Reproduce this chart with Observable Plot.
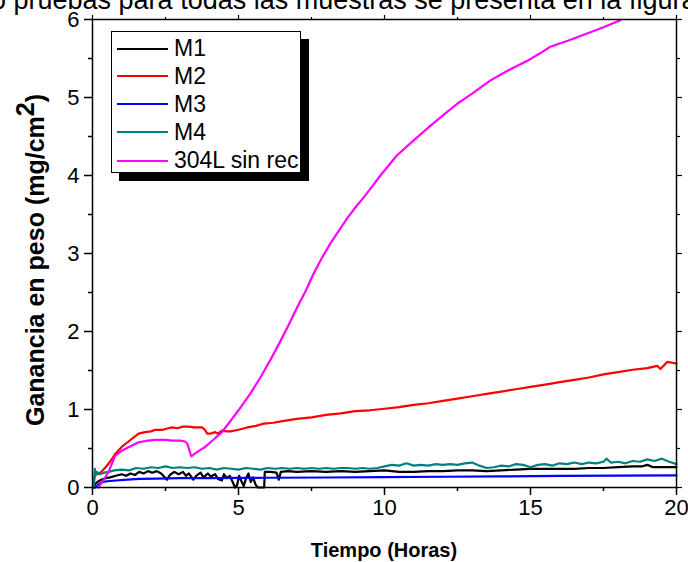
<!DOCTYPE html>
<html><head><meta charset="utf-8">
<script src="https://cdn.jsdelivr.net/npm/d3@7"></script>
<script src="https://cdn.jsdelivr.net/npm/@observablehq/plot@0.6"></script>
<style>
body{margin:0;background:#fff;}
#wrap{position:relative;width:688px;height:562px;overflow:hidden;font-family:Arial,"Liberation Sans",sans-serif;}
#title{position:absolute;left:-9px;top:-13px;font-size:27px;line-height:27px;white-space:nowrap;color:#000;}
#legend{position:absolute;left:111px;top:31px;width:188px;height:140px;border:1px solid #000;background:#fff;box-shadow:8px 8px 0 #000;}
.row{position:absolute;left:0;height:28px;display:flex;align-items:center;}
.sw{width:51px;height:0;border-top:2px solid;margin-left:5px;margin-right:6px;}
.lab{font-size:23px;color:#000;}
</style></head>
<body>
<div id="wrap"><div id="chart"></div><div id="title">o pruebas para todas las muestras se presenta en la figura</div><div id="legend"></div></div>
<script>
const seriesNames = ["M1", "M2", "M3", "M4", "304L sin rec"];
const seriesColors = ["#000000", "#ff0000", "#0000ff", "#008080", "#ff00ff"];

const m1T = [0.05,0.1,0.2,0.3,0.45,0.6,0.8,1.0,1.15,1.3,1.45,1.6,1.75,1.9,2.05,2.2,2.35,2.45,2.55,2.65,2.8,2.95,3.1,3.2,3.3,3.45,3.55,3.7,3.8,3.95,4.05,4.2,4.3,4.43,4.5,4.6,4.7,4.8,4.88,4.95,5.02,5.1,5.18,5.26,5.34,5.42,5.5,5.58,5.66,5.75,5.88,5.9,6.1,6.3,6.38,6.45,6.7,7.0,7.5,8.0,8.5,9.0,9.5,10.0,10.5,11.0,11.5,12.0,12.5,13.0,13.5,14.0,14.5,15.0,15.5,16.0,16.5,17.0,17.5,18.0,18.5,18.8,19.0,19.2,19.6,20.0];
const m1V = [0.0,0.05,0.08,0.1,0.12,0.13,0.15,0.17,0.15,0.18,0.16,0.2,0.18,0.21,0.19,0.21,0.18,0.14,0.1,0.16,0.2,0.17,0.2,0.15,0.18,0.1,0.15,0.19,0.13,0.18,0.14,0.17,0.11,0.09,0.17,0.12,0.15,0.07,0.0,0.03,0.15,0.08,0.02,0.12,0.18,0.07,0.13,0.04,0.0,0.0,0.0,0.2,0.2,0.19,0.1,0.2,0.21,0.2,0.21,0.2,0.21,0.2,0.21,0.22,0.2,0.2,0.21,0.21,0.22,0.22,0.21,0.22,0.23,0.24,0.24,0.24,0.24,0.25,0.25,0.26,0.27,0.27,0.29,0.26,0.26,0.26];

const m2T = [0.05,0.1,0.2,0.3,0.45,0.6,0.78,1.0,1.2,1.4,1.58,1.8,2.0,2.15,2.4,2.6,2.72,2.9,3.1,3.29,3.5,3.75,3.85,3.93,4.03,4.2,4.3,4.43,4.6,4.73,5.0,5.3,5.6,5.87,6.2,6.5,7.0,7.5,8.0,8.5,9.0,9.5,10.0,10.5,11.0,11.5,12.0,12.5,13.0,13.5,14.0,14.5,15.0,15.5,16.0,16.5,17.0,17.5,18.0,18.5,19.0,19.34,19.45,19.68,20.0];
const m2V = [0.1,0.18,0.17,0.2,0.26,0.33,0.43,0.52,0.58,0.64,0.69,0.71,0.72,0.74,0.74,0.76,0.77,0.76,0.78,0.78,0.77,0.77,0.74,0.69,0.69,0.71,0.69,0.73,0.72,0.72,0.74,0.77,0.79,0.82,0.83,0.85,0.88,0.9,0.93,0.95,0.98,0.99,1.01,1.03,1.06,1.08,1.11,1.14,1.17,1.2,1.23,1.26,1.29,1.32,1.35,1.38,1.41,1.45,1.48,1.51,1.53,1.56,1.52,1.61,1.59];

const m3T = [0.1,0.2,0.32,0.5,0.8,1.2,1.6,2.2,3.0,4.0,5.0,6.0,8.0,10.0,12.0,14.0,16.0,18.0,20.0];
const m3V = [0.0,0.04,0.07,0.08,0.09,0.1,0.11,0.115,0.12,0.12,0.124,0.125,0.128,0.132,0.138,0.142,0.148,0.152,0.155];

const m4T = [0.05,0.08,0.1,0.15,0.25,0.4,0.55,0.75,1.0,1.25,1.5,1.75,2.0,2.25,2.5,2.75,3.0,3.25,3.5,3.75,4.0,4.25,4.5,4.75,5.0,5.25,5.5,5.75,6.0,6.25,6.5,6.75,7.0,7.25,7.5,7.75,8.0,8.25,8.5,8.75,9.0,9.25,9.5,9.75,10.0,10.25,10.5,10.75,11.0,11.25,11.5,11.75,12.0,12.25,12.5,12.75,13.0,13.25,13.5,13.75,14.0,14.25,14.5,14.75,15.0,15.25,15.5,15.75,16.0,16.25,16.5,16.75,17.0,17.25,17.5,17.6,17.75,18.0,18.25,18.5,18.75,19.0,19.25,19.5,19.75,20.0];
const m4V = [0.0,0.24,0.15,0.2,0.17,0.19,0.2,0.22,0.23,0.22,0.25,0.24,0.26,0.25,0.27,0.25,0.26,0.25,0.26,0.24,0.25,0.23,0.25,0.24,0.23,0.25,0.24,0.23,0.25,0.24,0.25,0.24,0.25,0.24,0.25,0.24,0.25,0.24,0.25,0.25,0.24,0.25,0.24,0.25,0.27,0.29,0.28,0.31,0.28,0.29,0.28,0.3,0.29,0.3,0.29,0.31,0.32,0.28,0.25,0.26,0.28,0.27,0.3,0.29,0.26,0.29,0.3,0.28,0.31,0.3,0.32,0.3,0.32,0.31,0.33,0.37,0.32,0.33,0.31,0.34,0.33,0.36,0.34,0.37,0.33,0.3];

const s304T = [0.2,0.35,0.55,0.78,1.0,1.2,1.58,1.9,2.15,2.5,2.72,3.0,3.17,3.25,3.38,3.6,3.86,4.1,4.43,4.7,5.0,5.4,5.75,6.1,6.44,6.7,7.01,7.3,7.57,7.85,8.15,8.45,8.72,9.0,9.29,9.6,9.86,10.43,11.0,11.46,12.0,12.49,13.0,13.63,14.2,14.89,15.3,15.68,16.3,16.94,17.5,18.08];
const s304V = [0.0,0.08,0.2,0.41,0.47,0.51,0.58,0.6,0.61,0.61,0.6,0.6,0.59,0.56,0.4,0.46,0.52,0.6,0.71,0.84,0.99,1.2,1.41,1.64,1.88,2.07,2.31,2.52,2.74,2.94,3.13,3.3,3.45,3.59,3.72,3.87,4.0,4.26,4.45,4.6,4.77,4.92,5.05,5.22,5.34,5.47,5.56,5.65,5.73,5.82,5.9,5.99];

const xMajor = [0, 5, 10, 15, 20];
const xMinor = [2.5, 7.5, 12.5, 17.5];
const yMajor = [0, 1, 2, 3, 4, 5, 6];
const yMinor = [0.5, 1.5, 2.5, 3.5, 4.5, 5.5];

const allT = [m1T, m2T, m3T, m4T, s304T];
const allV = [m1V, m2V, m3V, m4V, s304V];
const tables = allT.map((ts, i) => ts.map((t, j) => ({t, v: allV[i][j]})));

const font = "Arial, 'Liberation Sans', sans-serif";
const blank = () => "";
const intFmt = d => String(d);
const plot = Plot.plot({
  width: 688, height: 562,
  marginLeft: 92, marginRight: 12, marginTop: 19, marginBottom: 75,
  style: {fontFamily: font, fontSize: "22px", color: "#000", background: "#fff", overflow: "visible"},
  x: {domain: [0, 20]},
  y: {domain: [0, 6]},
  marks: [
    ...tables.map((d, i) => Plot.line(d, {x: "t", y: "v", stroke: seriesColors[i], strokeWidth: 2.2})),
    Plot.frame({stroke: "#000", strokeWidth: 1.5}),
    Plot.axisX(xMajor, {tickSize: 8, tickPadding: 4, fontSize: 22, tickFormat: intFmt, label: null, strokeWidth: 1.5}),
    Plot.axisX(xMinor, {tickSize: 4, tickFormat: blank, label: null, strokeWidth: 1.5}),
    Plot.axisX(xMajor, {anchor: "top", tickSize: 5, tickFormat: blank, label: null, strokeWidth: 1.2}),
    Plot.axisX(xMinor, {anchor: "top", tickSize: 3, tickFormat: blank, label: null, strokeWidth: 1.2}),
    Plot.axisY(yMajor, {tickSize: 8, tickPadding: 5, fontSize: 22, tickFormat: intFmt, label: null, strokeWidth: 1.5}),
    Plot.axisY(yMinor, {tickSize: 4, tickFormat: blank, label: null, strokeWidth: 1.5}),
    Plot.axisY(yMajor, {anchor: "right", tickSize: 5, tickFormat: blank, label: null, strokeWidth: 1.2}),
    Plot.axisY(yMinor, {anchor: "right", tickSize: 3, tickFormat: blank, label: null, strokeWidth: 1.2})
  ]
});
document.getElementById("chart").appendChild(plot);

const svg = d3.select(plot);
const yl = svg.append("text")
  .attr("transform", "translate(44,260) rotate(-90)")
  .attr("text-anchor", "middle")
  .attr("font-family", font).attr("font-weight", "bold").attr("font-size", 25).attr("fill", "#000");
yl.append("tspan").text("Ganancia en peso (mg/cm");
yl.append("tspan").attr("dy", -10).text("2");
yl.append("tspan").attr("dy", 10).text(")");

svg.append("text")
  .attr("x", 384).attr("y", 557)
  .attr("text-anchor", "middle")
  .attr("font-family", font).attr("font-weight", "bold").attr("font-size", 20).attr("fill", "#000")
  .text("Tiempo (Horas)");

const legend = document.getElementById("legend");
const rowTops = [2.5, 30, 58, 86, 114.5];
seriesNames.forEach((name, i) => {
  const row = document.createElement("div");
  row.className = "row";
  row.style.top = rowTops[i] + "px";
  const sw = document.createElement("div");
  sw.className = "sw";
  sw.style.borderTopColor = seriesColors[i];
  const lab = document.createElement("span");
  lab.className = "lab";
  lab.textContent = name;
  row.appendChild(sw); row.appendChild(lab);
  legend.appendChild(row);
});
</script>
</body></html>
